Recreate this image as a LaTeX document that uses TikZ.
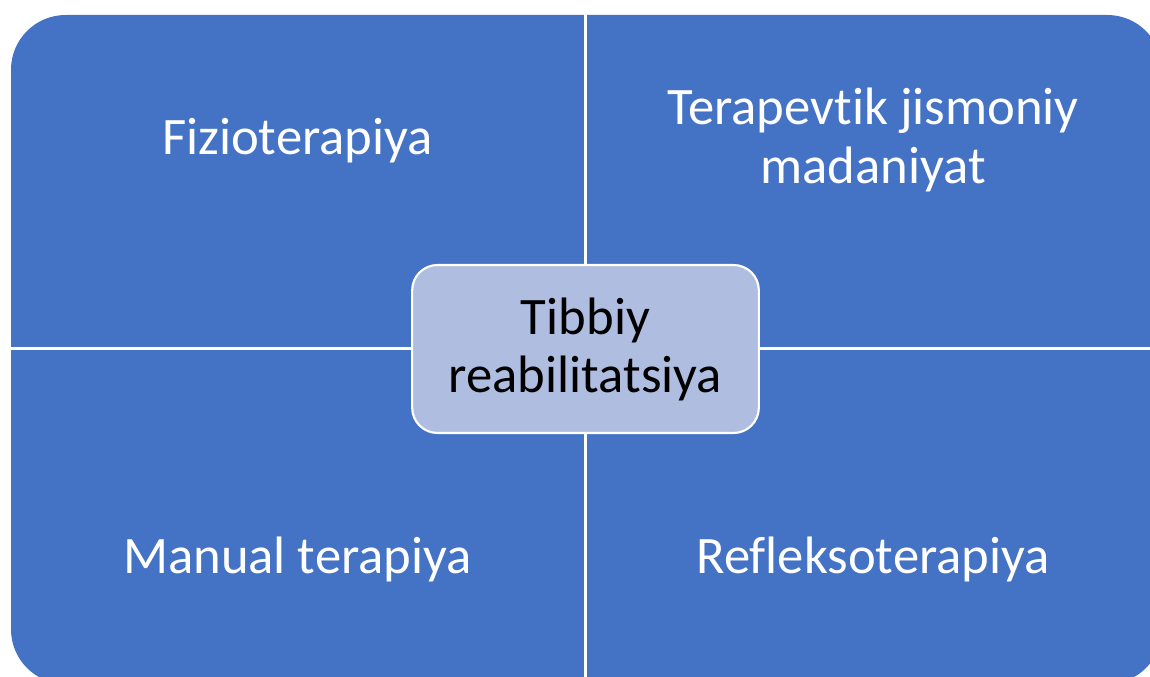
\documentclass[tikz,border=0pt]{standalone}
\usepackage{fontspec}
\setmainfont{Carlito}[Ligatures=NoCommon]
\definecolor{quadblue}{RGB}{68,114,196}
\definecolor{hubfill}{RGB}{175,189,224}

\begin{document}
\begin{tikzpicture}[x=0.75pt,y=0.75pt,yscale=-1,xscale=1,
  quadtext/.style={text=white, inner sep=0.75pt, align=center, font=\fontsize{39.5}{44}\selectfont},
  hubbox/.style={fill=hubfill, draw=white, line width=1.6pt, rounded corners=19pt, inner sep=0pt,
    minimum width=260pt, minimum height=126pt, align=center, font=\fontsize{39.5}{43.5}\selectfont}]
\useasboundingbox (0,0) rectangle (1150,677);
\clip (0,0) rectangle (1150,677);

%Shape: Rounded Rect [id:matrix] 
\draw [fill=quadblue, draw=none, rounded corners=41pt] (11,15) rectangle (1162,684);
%Straight Lines [id:vsep] 
\draw [color=white, line width=2.25pt] (585.5,5) -- (585.5,690);
%Straight Lines [id:hsep] 
\draw [color=white, line width=2.25pt] (5,348.5) -- (1165,348.5);

% Text Node
\node (fizio) [quadtext] at (297.5,141) {Fizioterapiya};
% Text Node
\node (tjm) [quadtext] at (873,140) {Terapevtik jismoniy\\madaniyat};
% Text Node
\node (manual) [quadtext] at (297.5,559) {Manual terapiya};
% Text Node
\node (reflex) [quadtext] at (873,559) {Refleksoterapiya};
% Shape: Rounded Rect + Text
\node (tibbiy) [hubbox] at (585.5,349) {Tibbiy\\reabilitatsiya};
\end{tikzpicture}
\end{document}
